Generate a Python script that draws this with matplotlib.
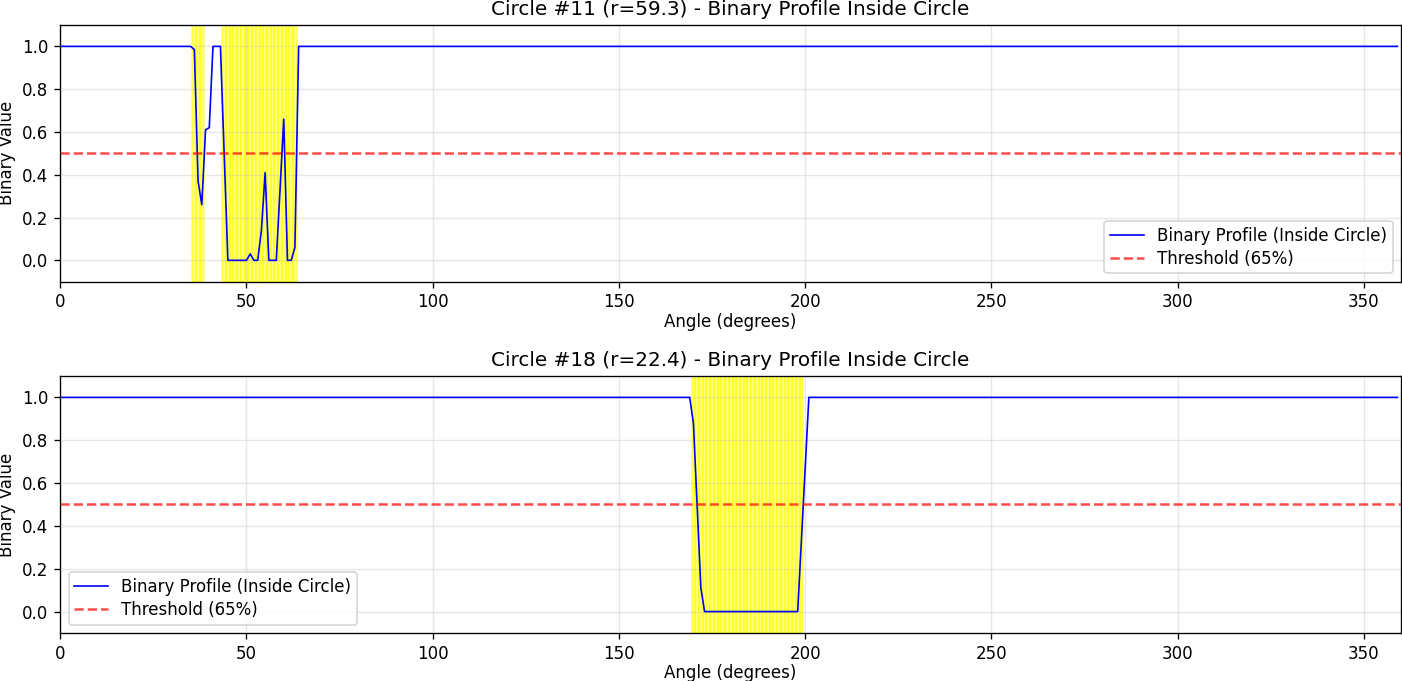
import matplotlib
matplotlib.use('Agg')
import matplotlib.pyplot as plt

# circle info
titles = ['Circle #11 (r=59.3) - Binary Profile Inside Circle',
          'Circle #18 (r=22.4) - Binary Profile Inside Circle']

# profile breakpoints (angle in degrees, binary value)
top_angles = [0, 35, 36, 37, 38, 39, 40, 41, 43, 45, 50, 51, 52, 53, 54, 55, 56, 58, 60, 61, 62, 63, 64, 359]
top_values = [1, 1, 0.985, 0.37, 0.26, 0.61, 0.62, 1, 1, 0, 0, 0.03, 0, 0, 0.14, 0.41, 0, 0, 0.66, 0, 0, 0.06, 1, 1]

bottom_angles = [0, 169, 170, 172, 173, 198, 201, 359]
bottom_values = [1, 1, 0.88, 0.11, 0, 0, 1, 1]

# gap ranges (first and last sample angle that is flagged)
top_gaps = [(36, 38), (44, 63)]
bottom_gaps = [(170, 199)]

threshold = 0.5
legend_locs = ['lower right', 'lower left']

fig = plt.figure(figsize=(1402 / 120, 681 / 120), dpi=120)
ax1 = fig.add_axes([0.0430, 0.5863, 0.9563, 0.3770])
ax2 = fig.add_axes([0.0430, 0.0705, 0.9563, 0.3774])

panels = [(ax1, top_angles, top_values, top_gaps),
          (ax2, bottom_angles, bottom_values, bottom_gaps)]

for i, (ax, ang, val, gaps) in enumerate(panels):
    # highlight every flagged sample
    for start, end in gaps:
        for a in range(start, end + 1):
            ax.axvspan(a - 0.5, a + 0.5, color='yellow', alpha=0.5)
    ax.plot(ang, val, 'b-', linewidth=1, label='Binary Profile (Inside Circle)')
    ax.axhline(threshold, color='r', linestyle='--', alpha=0.7, linewidth=1.5,
               label='Threshold (65%)')
    ax.set_xlim(0, 360)
    ax.set_ylim(-0.1, 1.1)
    ax.set_xlabel('Angle (degrees)', labelpad=1)
    ax.set_ylabel('Binary Value')
    ax.set_title(titles[i])
    ax.grid(True, alpha=0.3)
    ax.legend(loc=legend_locs[i], labelspacing=0.3, borderpad=0.35)

fig.savefig('out.png', dpi=120)
